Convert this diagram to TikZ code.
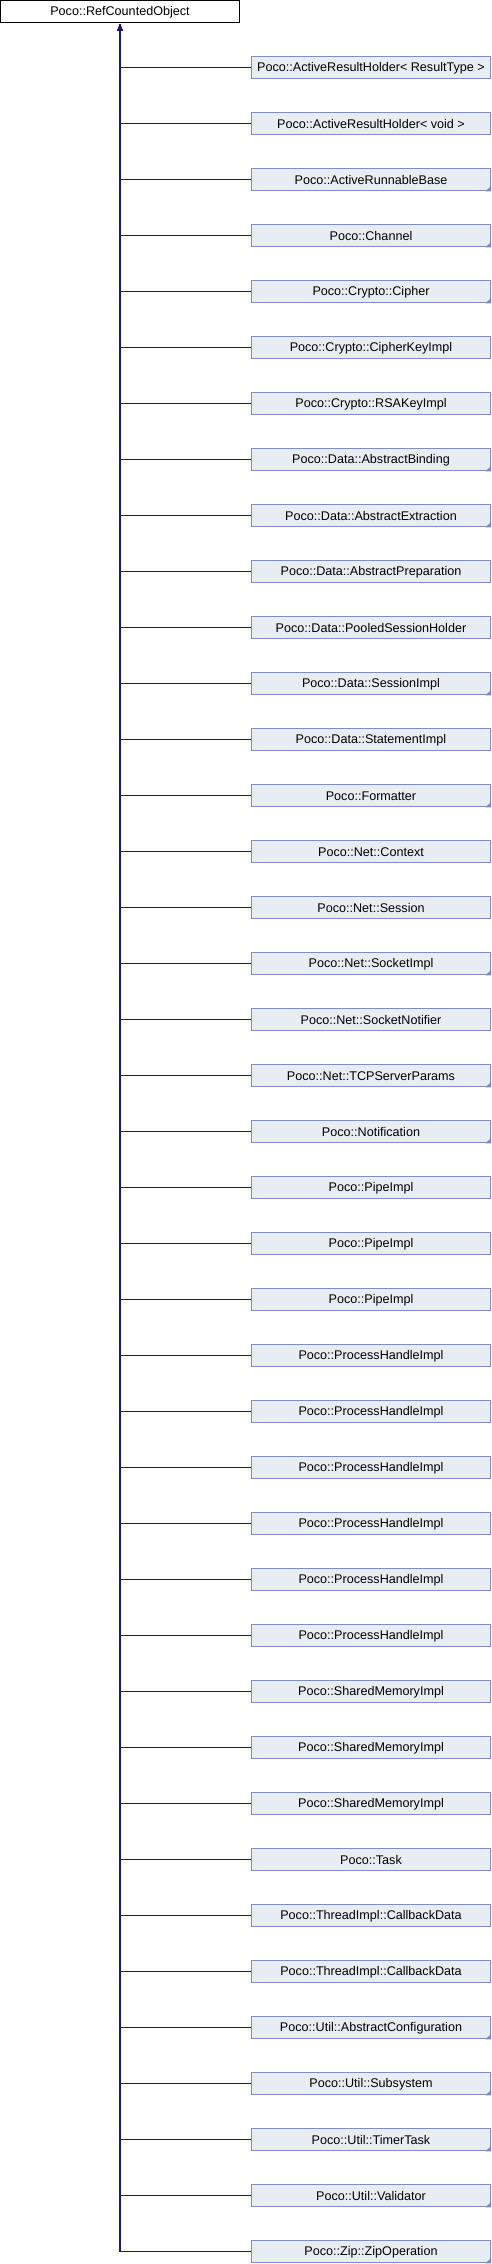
\documentclass[tikz,border=0pt]{standalone}
\usepackage{fontspec}
\setmainfont{Liberation Sans}
\usetikzlibrary{arrows.meta}
\definecolor{edgecol}{HTML}{191970}
\definecolor{boxfill}{HTML}{E8ECF4}
\definecolor{boxdraw}{HTML}{7B8FC6}
\begin{document}
\begin{tikzpicture}[x=1pt,y=-1pt,
  lbl/.style={font=\fontsize{12.6}{14}\selectfont},
  rootbox/.style={lbl,draw=black,fill=white,line width=1pt,minimum width=239pt,minimum height=22.5pt,inner sep=0pt},
  childbox/.style={lbl,draw=boxdraw,fill=boxfill,line width=1pt,minimum width=239pt,minimum height=22pt,inner sep=0pt},
  edge/.style={draw=edgecol,line width=1.2pt,-{Latex[length=7pt,width=5.5pt]}},
  marker/.style={fill=boxdraw}]
\useasboundingbox (0,0) rectangle (492,2264);
\node[rootbox] (root) at (120,11.75) {Poco::RefCountedObject};
\foreach \i/\txt/\m in {
  1/{Poco::ActiveResultHolder< ResultType >}/0,
  2/{Poco::ActiveResultHolder< void >}/0,
  3/{Poco::ActiveRunnableBase}/1,
  4/{Poco::Channel}/1,
  5/{Poco::Crypto::Cipher}/1,
  6/{Poco::Crypto::CipherKeyImpl}/0,
  7/{Poco::Crypto::RSAKeyImpl}/0,
  8/{Poco::Data::AbstractBinding}/1,
  9/{Poco::Data::AbstractExtraction}/1,
  10/{Poco::Data::AbstractPreparation}/0,
  11/{Poco::Data::PooledSessionHolder}/0,
  12/{Poco::Data::SessionImpl}/1,
  13/{Poco::Data::StatementImpl}/0,
  14/{Poco::Formatter}/1,
  15/{Poco::Net::Context}/0,
  16/{Poco::Net::Session}/0,
  17/{Poco::Net::SocketImpl}/1,
  18/{Poco::Net::SocketNotifier}/0,
  19/{Poco::Net::TCPServerParams}/1,
  20/{Poco::Notification}/1,
  21/{Poco::PipeImpl}/0,
  22/{Poco::PipeImpl}/0,
  23/{Poco::PipeImpl}/0,
  24/{Poco::ProcessHandleImpl}/0,
  25/{Poco::ProcessHandleImpl}/0,
  26/{Poco::ProcessHandleImpl}/0,
  27/{Poco::ProcessHandleImpl}/0,
  28/{Poco::ProcessHandleImpl}/0,
  29/{Poco::ProcessHandleImpl}/0,
  30/{Poco::SharedMemoryImpl}/0,
  31/{Poco::SharedMemoryImpl}/0,
  32/{Poco::SharedMemoryImpl}/0,
  33/{Poco::Task}/0,
  34/{Poco::ThreadImpl::CallbackData}/0,
  35/{Poco::ThreadImpl::CallbackData}/0,
  36/{Poco::Util::AbstractConfiguration}/1,
  37/{Poco::Util::Subsystem}/1,
  38/{Poco::Util::TimerTask}/1,
  39/{Poco::Util::Validator}/1,
  40/{Poco::Zip::ZipOperation}/1}
{
  \node[childbox] (c\i) at (371,{67.8+56*(\i-1)}) {\txt};
  \ifnum\m=1
    \fill[marker] (c\i.south east) -- ++(0,-5.5) -- ++(-5.5,5.5) -- cycle;
  \fi
  \draw[edge] (c\i.west) -| (root.south);
}
\end{tikzpicture}
\end{document}
